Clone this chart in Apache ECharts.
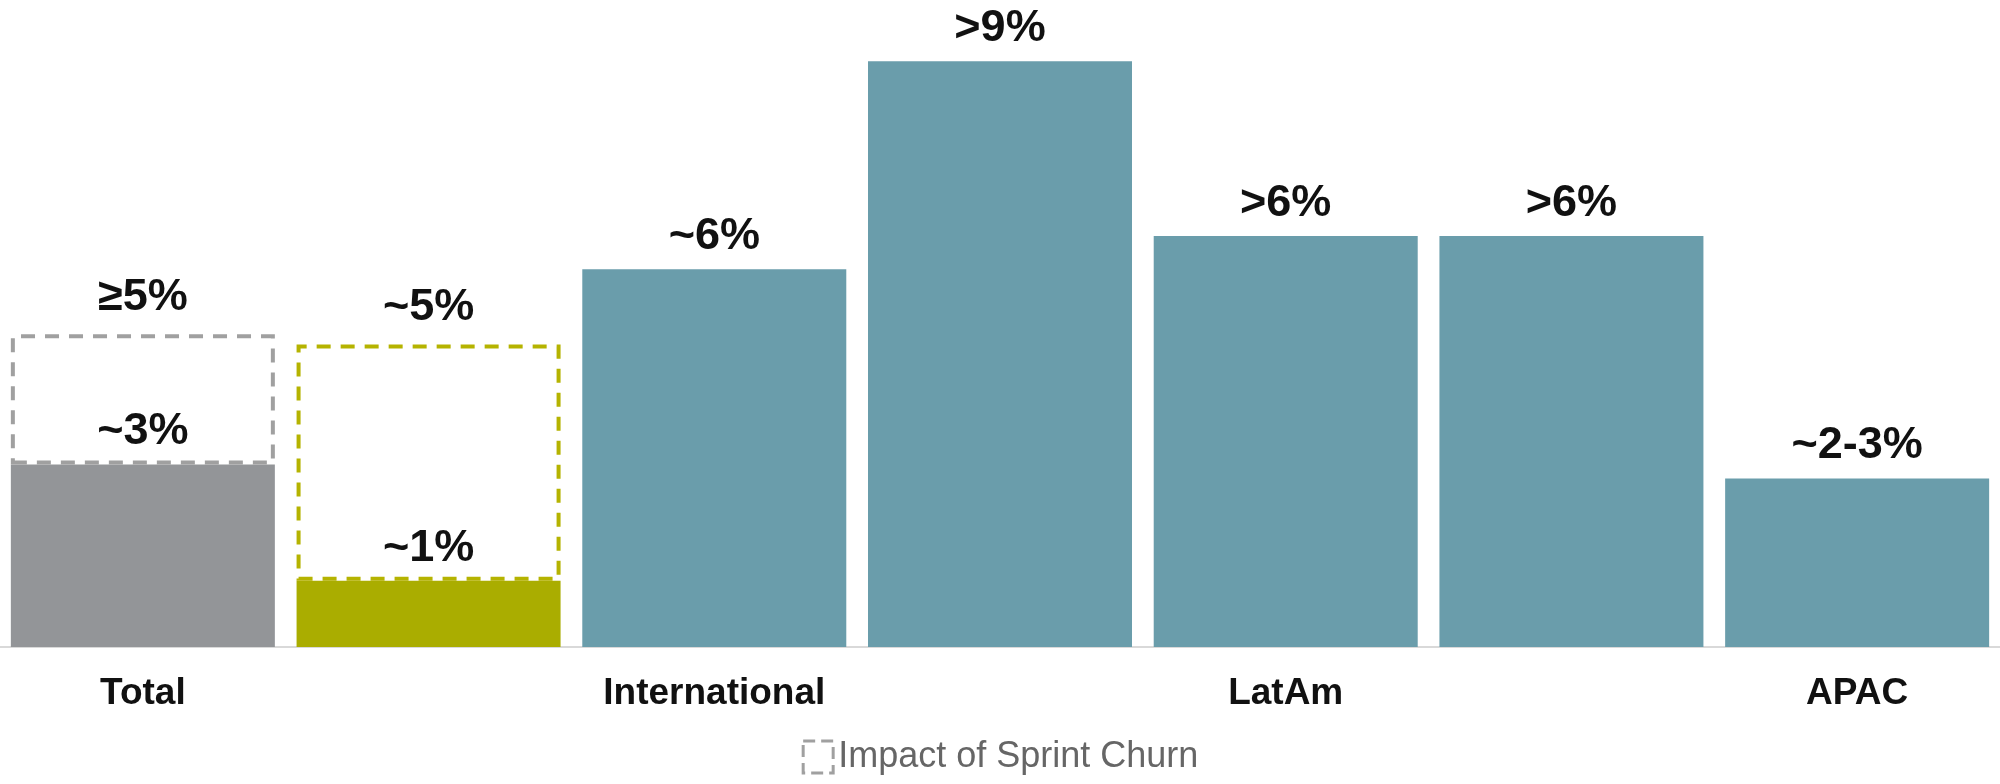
<!DOCTYPE html>
<html>
<head>
<meta charset="utf-8">
<script src="https://cdn.jsdelivr.net/npm/echarts@6/dist/echarts.min.js"></script>
<style>html,body{margin:0;padding:0;background:#fff}#main{width:2000px;height:784px}</style>
</head>
<body>
<div id="main"></div>
<script>
var categories = ['Total', 'U.S. & Canada', 'International', 'Europe', 'LatAm', 'Africa', 'APAC'];
var baseValues = [2.86, 1.04, 5.92, 9.18, 6.44, 6.44, 2.64];
var baseLabels = ['~3%', '~1%', '~6%', '>9%', '>6%', '>6%', '~2-3%'];
var churnValues = [2.04, 3.7, null, null, null, null, null];
var churnLabels = ['≥5%', '~5%', '', '', '', '', ''];
var baseColors = ['#939598', '#aaad00', '#6a9dab', '#6a9dab', '#6a9dab', '#6a9dab', '#6a9dab'];
var churnColors = ['#a0a0a0', '#b5b300'];

var chart = echarts.init(document.getElementById('main'));
var font = 'Liberation Sans, Arial, sans-serif';
chart.setOption({
    animation: false,
    textStyle: {fontFamily: font},
    grid: {left: 0, right: 0, top: 0, bottom: 137},
    legend: {
        bottom: 4, left: 'center',
        data: [{name: 'Impact of Sprint Churn', icon: 'rect'}],
        itemWidth: 30, itemHeight: 32, itemGap: 6,
        textStyle: {fontSize: 36, color: '#666', fontFamily: font},
        itemStyle: {color: 'rgba(0,0,0,0)', borderColor: '#a0a0a0', borderWidth: 3, borderType: 'dashed'}
    },
    xAxis: {
        type: 'category', data: categories,
        axisLine: {lineStyle: {color: '#d9d9d9', width: 2}},
        axisTick: {show: false},
        axisLabel: {fontSize: 37, fontWeight: 'bold', color: '#111', margin: 28}
    },
    yAxis: {type: 'value', min: 0, max: 10.14, show: false, splitLine: {show: false}},
    series: [
        {
            name: 'Base', type: 'bar', stack: 'a', barCategoryGap: '7.6%', z: 2,
            data: baseValues.map(function (v, i) {
                return {value: v, itemStyle: {color: baseColors[i]}};
            }),
            label: {
                show: true, position: 'top', distance: 10,
                fontSize: 45, fontWeight: 'bold', color: '#111',
                formatter: function (p) { return baseLabels[p.dataIndex]; }
            }
        },
        {
            name: 'Impact of Sprint Churn', type: 'bar', stack: 'a', z: 3,
            data: churnValues.map(function (v, i) {
                return {value: v, itemStyle: {color: 'rgba(0,0,0,0)', borderColor: churnColors[i] || '#a0a0a0', borderWidth: 4, borderType: [14, 10]}};
            }),
            label: {
                show: true, position: 'top', distance: 14,
                fontSize: 45, fontWeight: 'bold', color: '#111',
                formatter: function (p) { return churnLabels[p.dataIndex]; }
            }
        }
    ]
});
</script>
</body>
</html>
